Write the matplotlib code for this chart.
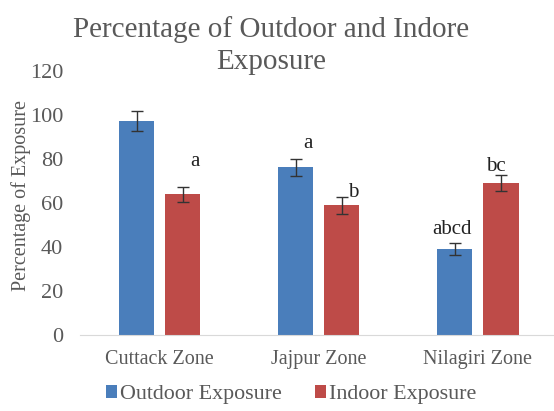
import numpy as np
import matplotlib
matplotlib.use("Agg")
import matplotlib.pyplot as plt

zones = ['Cuttack Zone', 'Jajpur Zone', 'Nilagiri Zone']
outdoor = [97.4, 76.2, 39.0]
indoor = [64.0, 59.0, 69.2]
outdoor_err = [4.6, 4.0, 2.6]
indoor_err = [3.4, 3.8, 3.6]
outdoor_lbl = ['', 'a', 'abcd']
indoor_lbl = ['a', 'b', 'bc']

plt.rcParams['font.family'] = ['Liberation Serif', 'DejaVu Serif']
grey = '#595959'
blue = '#4A7EBB'
red = '#BE4B48'

fig = plt.figure(figsize=(5.54, 4.11), dpi=100)
ax = fig.add_axes([80 / 554, 0.185, 477.5 / 554, 0.642])

x = np.arange(len(zones))
w = 0.22
off = 0.145
ax.bar(x - off, outdoor, w, color=blue, label='Outdoor Exposure')
ax.bar(x + off, indoor, w, color=red, label='Indoor Exposure')
ax.errorbar(x - off, outdoor, yerr=outdoor_err, fmt='none', ecolor='#333333',
            elinewidth=1, capsize=4, capthick=1)
ax.errorbar(x + off, indoor, yerr=indoor_err, fmt='none', ecolor='#333333',
            elinewidth=1, capsize=4, capthick=1)

o_off = [(0, 0), (9, 11), (-2, 10)]
i_off = [(9, 18), (8, 3), (-4, 6)]
for i in range(len(zones)):
    if outdoor_lbl[i]:
        ax.annotate(outdoor_lbl[i], (x[i] - off, outdoor[i] + outdoor_err[i]),
                    xytext=o_off[i], textcoords='offset points',
                    ha='center', va='center', fontsize=15, color='#222222')
    if indoor_lbl[i]:
        ax.annotate(indoor_lbl[i], (x[i] + off, indoor[i] + indoor_err[i]),
                    xytext=i_off[i], textcoords='offset points',
                    ha='center', va='center', fontsize=15, color='#222222')

ax.set_xlim(-0.5, 2.5)
ax.set_ylim(0, 120)
ax.set_yticks(range(0, 121, 20))
ax.set_xticks(x)
ax.set_xticklabels(zones)
ax.tick_params(axis='both', length=0, colors=grey)
ax.tick_params(axis='y', labelsize=16, pad=12)
ax.tick_params(axis='x', labelsize=14.5, pad=11)
for s in ['top', 'right', 'left']:
    ax.spines[s].set_visible(False)
ax.spines['bottom'].set_color('#d9d9d9')

ax.set_ylabel('Percentage of Exposure', fontsize=14.5, color=grey)
ax.yaxis.set_label_coords(-0.103, 0.53)
fig.text(0.49, 0.89, 'Percentage of Outdoor and Indore\nExposure', ha='center',
         va='center', fontsize=21, color=grey, linespacing=1.3)

leg = fig.legend(loc='center', bbox_to_anchor=(0.526, 0.04), ncol=2, frameon=False,
                 fontsize=15.8, handlelength=0.5, handleheight=0.5, handletextpad=0.15,
                 columnspacing=1.5)
for t in leg.get_texts():
    t.set_color(grey)

fig.savefig('out.png', dpi=100)
